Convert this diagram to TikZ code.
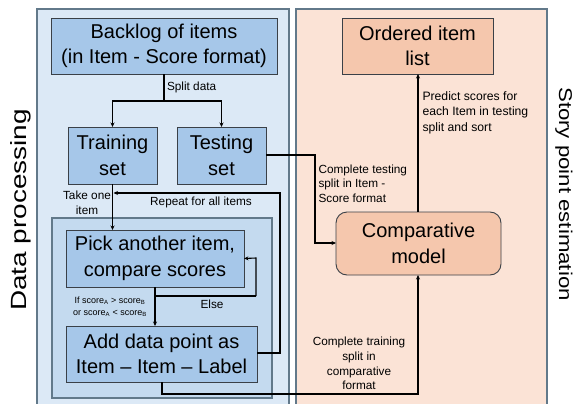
\documentclass[tikz,border=0pt]{standalone}
\usepackage{fontspec}
\setmainfont{Liberation Sans}
\usetikzlibrary{arrows.meta}
\definecolor{panelblue}{HTML}{DCE9F6}
\definecolor{innerblue}{HTML}{C4DAEF}
\definecolor{boxblue}{HTML}{A6C7E9}
\definecolor{panelpeach}{HTML}{FBE3D6}
\definecolor{boxpeach}{HTML}{F5C7AD}
\definecolor{panelline}{HTML}{62798A}
\definecolor{boxline}{HTML}{3A4047}
\tikzset{
  every node/.style={inner sep=0pt, outer sep=0pt},
  bigbox/.style={draw=boxline, line width=0.9pt, align=center, font=\fontsize{20}{25.5}\selectfont},
  bluebox/.style={bigbox, fill=boxblue},
  peachbox/.style={bigbox, fill=boxpeach},
  lbl/.style={font=\fontsize{11.8}{14.6}\selectfont},
  conn/.style={draw=black, line width=1.1pt},
  arr/.style={conn, -{Stealth[length=4.5pt,width=4pt]}},
}
\begin{document}
\begin{tikzpicture}[x=1pt, y=-1pt]
\useasboundingbox (0,0) rectangle (578,404);
\begin{scope}
\clip (0,0) rectangle (578,404);
% panels
\path[fill=panelblue, draw=panelline, line width=1.2pt] (37,9) rectangle (289,420);
\path[fill=panelpeach, draw=panelline, line width=1.2pt] (296,9) rectangle (547,420);
\path[fill=innerblue, draw=panelline, line width=1.2pt] (52,218) rectangle (272,398);
\end{scope}
% nodes
\node[bluebox, minimum width=226pt, minimum height=56pt] (backlog) at (164,46) {Backlog of items\\(in Item - Score format)};
\node[bluebox, minimum width=89pt, minimum height=57pt] (train) at (112.5,155.5) {Training\\set};
\node[bluebox, minimum width=89pt, minimum height=57pt] (test) at (221.5,155.5) {Testing\\set};
\node[bluebox, minimum width=178pt, minimum height=57pt] (pick) at (155,258.5) {Pick another item,\\compare scores};
\node[bluebox, minimum width=191pt, minimum height=56pt] (add) at (161.5,354) {Add data point as\\Item -- Item -- Label};
\node[peachbox, minimum width=151pt, minimum height=56pt] (ordered) at (417.5,46) {Ordered item\\list};
\node[peachbox, rounded corners=11pt, minimum width=165pt, minimum height=63pt] (model) at (418.5,243.5) {Comparative\\model};
% coordinates
\coordinate (split) at (164,101);
\coordinate (rep1) at (280,353);
\coordinate (rep2) at (280,193);
\coordinate (rep3) at (113.5,193);
\coordinate (else1) at (155,296);
\coordinate (else2) at (256,296);
\coordinate (else3) at (256,258);
\coordinate (tr1) at (162,394);
\coordinate (tr2) at (418,394);
\coordinate (te1) at (315,155);
\coordinate (te2) at (315,243);
% connectors
\draw[conn] (backlog.south) -- (split);
\draw[arr] (split) -| (train.north);
\draw[arr] (split) -| (test.north);
\draw[arr] (train.south) -- (pick.north -| train.south);
\draw[arr] (add.east |- rep1) -- (rep1) -- (rep2) -- (rep3);
\draw[conn] (pick.south) -- (else1) -- (else2);
\draw[arr] (else2) -- (else3) -- (pick.east);
\draw[arr] (else1) -- (add.north -| else1);
\draw[arr] (add.south -| tr1) -- (tr1) -- (tr2) -- (model.south -| tr2);
\draw[arr] (test.east |- te1) -- (te1) -- (te2) -- (model.west |- te2);
\draw[arr] (model.north -| tr2) -- (ordered.south -| tr2);
% labels
\node[lbl, anchor=west] (lsplit) at (167,87) {Split data};
\node[lbl, align=center] (ltake) at (87,203) {Take one\\item};
\node[lbl] (lrep) at (201,202) {Repeat for all items};
\node[align=center, font=\fontsize{9}{12}\selectfont] (lif) at (110,307) {If score\textsubscript{A} > score\textsubscript{B}\\or score\textsubscript{A} < score\textsubscript{B}};
\node[lbl] (lelse) at (212,304) {Else};
\node[lbl, align=left, anchor=west] (ltest) at (318.5,183.5) {Complete testing\\split in Item -\\Score format};
\node[lbl, align=left, anchor=west, font=\fontsize{12.2}{15.5}\selectfont] (lpred) at (422.5,112.5) {Predict scores for\\each Item in testing\\split and sort};
\node[lbl, align=center] (ltrain) at (359,363.5) {Complete training\\split in\\comparative\\format};
\node[rotate=90, font=\fontsize{22}{26}\selectfont] (side1) at (21,210) {\scalebox{1.27}[1]{Data processing}};
\node[rotate=-90, font=\fontsize{18.5}{22}\selectfont] (side2) at (564,194) {\scalebox{1.2}[1]{Story point estimation}};
\end{tikzpicture}
\end{document}
